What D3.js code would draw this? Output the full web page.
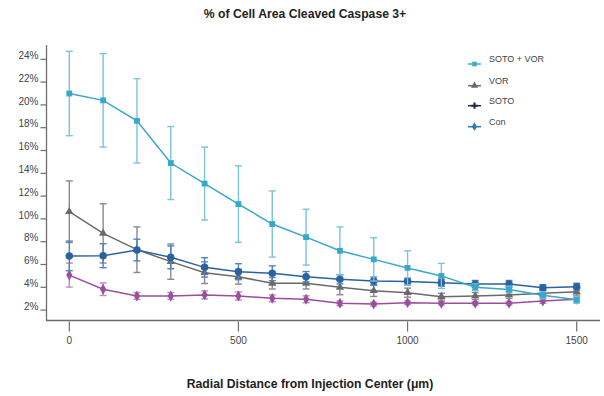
<!DOCTYPE html>
<html><head><meta charset="utf-8">
<script src="https://cdn.jsdelivr.net/npm/d3@7"></script>
<style>body{margin:0;background:#fff;}svg{display:block;font-family:"Liberation Sans",Arial,sans-serif;}</style>
</head><body>
<svg id="chart" width="604" height="396"></svg>
<script>
const distances = [0,100,200,300,400,500,600,700,800,900,1000,1100,1200,1300,1400,1500];
const yTicks = [2,4,6,8,10,12,14,16,18,20,22,24];
const xTicks = [0,500,1000,1500];

const sotoVorMean = [21.0,20.4,18.6,14.9,13.1,11.3,9.55,8.4,7.2,6.45,5.7,5.0,4.0,3.8,3.3,2.9];
const sotoVorErr  = [3.7,4.1,3.7,3.2,3.2,3.35,2.9,2.45,2.1,1.9,1.5,1.1,0.3,0.3,0.3,0.3];

const vorMean = [10.63,8.73,7.3,6.25,5.28,4.93,4.35,4.35,4.0,3.7,3.53,3.18,3.24,3.33,3.47,3.61];
const vorErr  = [2.7,2.6,2.0,1.55,0.95,0.65,0.5,0.5,0.65,0.5,0.4,0.3,0.3,0.3,0.3,0.3];

const blueMean = [6.75,6.77,7.27,6.63,5.75,5.37,5.23,4.93,4.7,4.55,4.5,4.4,4.3,4.3,3.97,4.05];
const blueErr  = [1.3,1.05,0.95,1.0,0.85,0.7,0.65,0.45,0.4,0.35,0.3,0.3,0.3,0.3,0.25,0.3];

const purpleMean = [5.07,3.83,3.24,3.24,3.33,3.24,3.03,2.95,2.6,2.53,2.65,2.6,2.6,2.6,2.8,2.95];
const purpleErr  = [1.05,0.55,0.3,0.3,0.35,0.35,0.3,0.3,0.2,0.15,0.15,0.15,0.15,0.15,0.2,0.2];

const legendLabels = ["SOTO + VOR","VOR","SOTO","Con"];
const legendColors = ["#3aaccc","#6a6a6a","#1c2b4e","#2b7bb5"];
const legendShapes = ["square","triangle","cross","diamond"];

const series = [
  {mean: purpleMean, err: purpleErr, color:"#9a4f9c", errColor:"#b98cbc", shape:"diamond", size:34},
  {mean: vorMean, err: vorErr, color:"#6a6a6a", errColor:"#8a8a8a", shape:"triangle", size:30},
  {mean: blueMean, err: blueErr, color:"#2a62a2", errColor:"#4f83bb", shape:"circle", size:44},
  {mean: sotoVorMean, err: sotoVorErr, color:"#37a8c8", errColor:"#7cc4d8", shape:"square", size:34}
];

const svg = d3.select("#chart");
const x = d3.scaleLinear().domain([0,1500]).range([69.3,576.7]);
const y = d3.scaleLinear().domain([2,24]).range([310.1,59.3]);
const axisColor = "#6d6d6d";

const symMap = {square:d3.symbolSquare, triangle:d3.symbolTriangle, circle:d3.symbolCircle, diamond:d3.symbolDiamond, cross:d3.symbolCross};

// axes
const yAxisG = svg.append("g").attr("transform","translate(46.5,0)");
yAxisG.append("line").attr("x1",0).attr("x2",0).attr("y1",45).attr("y2",320.5).attr("stroke",axisColor).attr("stroke-width",1.3);
yAxisG.selectAll(".yt").data(yTicks).join("line").attr("class","yt").attr("x1",-6).attr("x2",0)
  .attr("y1",d=>y(d)).attr("y2",d=>y(d)).attr("stroke",axisColor).attr("stroke-width",1.2);
yAxisG.selectAll(".yl").data(yTicks).join("text").attr("class","yl").attr("x",-8).attr("y",d=>y(d)-3)
  .attr("text-anchor","end").attr("dominant-baseline","middle").attr("font-size",10).attr("fill","#444").text(d=>d+"%");

const xAxisG = svg.append("g").attr("transform","translate(0,320.5)");
xAxisG.append("line").attr("x1",46).attr("x2",600).attr("y1",0).attr("y2",0).attr("stroke",axisColor).attr("stroke-width",1.3);
xAxisG.selectAll(".xt").data(xTicks).join("line").attr("class","xt").attr("x1",d=>x(d)).attr("x2",d=>x(d))
  .attr("y1",1).attr("y2",11).attr("stroke",axisColor).attr("stroke-width",1.2);
xAxisG.selectAll(".xl").data(xTicks).join("text").attr("class","xl").attr("x",d=>x(d)).attr("y",21)
  .attr("text-anchor","middle").attr("dominant-baseline","middle").attr("font-size",10).attr("fill","#444").text(d=>d);

// series
const line = d3.line().x((d,i)=>x(distances[i])).y(d=>y(d));
series.forEach(s=>{
  const g = svg.append("g");
  const pts = distances.map((d,i)=>({d, m:s.mean[i], e:s.err[i]}));
  g.selectAll(".eb").data(pts).join("line").attr("class","eb").attr("x1",p=>x(p.d)).attr("x2",p=>x(p.d))
    .attr("y1",p=>y(p.m+p.e)).attr("y2",p=>y(p.m-p.e)).attr("stroke",s.errColor).attr("stroke-width",1.4);
  [1,-1].forEach((sg,k)=>{
    g.selectAll(".cap"+k).data(pts).join("line").attr("class","cap"+k).attr("x1",p=>x(p.d)-3.5).attr("x2",p=>x(p.d)+3.5)
      .attr("y1",p=>y(p.m+sg*p.e)).attr("y2",p=>y(p.m+sg*p.e))
      .attr("stroke",s.errColor).attr("stroke-width",1.4);
  });
  g.append("path").datum(s.mean).attr("d",line).attr("fill","none").attr("stroke",s.color).attr("stroke-width",1.5);
  g.selectAll(".pt").data(pts).join("path").attr("class","pt")
    .attr("transform",p=>`translate(${x(p.d)},${y(p.m)})`)
    .attr("d",d3.symbol().type(symMap[s.shape]).size(s.size)).attr("fill",s.color);
});

// titles
svg.append("text").attr("x",305).attr("y",15).attr("text-anchor","middle").attr("dominant-baseline","middle")
  .attr("font-size",12.2).attr("font-weight","bold").attr("fill","#222").text("% of Cell Area Cleaved Caspase 3+");
svg.append("text").attr("x",310).attr("y",385).attr("text-anchor","middle").attr("dominant-baseline","middle")
  .attr("font-size",12.2).attr("font-weight","bold").attr("fill","#222").text("Radial Distance from Injection Center (μm)");

// legend
const legYText = [60,81.7,101.7,122.7];
const lg = svg.append("g");
legendLabels.forEach((lab,i)=>{
  const my = legYText[i]+4;
  lg.append("line").attr("x1",468).attr("x2",481).attr("y1",my).attr("y2",my).attr("stroke",legendColors[i]).attr("stroke-width",1.5);
  lg.append("path").attr("transform",`translate(474.5,${my})`).attr("d",d3.symbol().type(symMap[legendShapes[i]]).size(22)).attr("fill",legendColors[i]);
  lg.append("text").attr("x",489).attr("y",legYText[i]).attr("dominant-baseline","middle").attr("font-size",9).attr("fill","#444").text(lab);
});
</script>
</body></html>
